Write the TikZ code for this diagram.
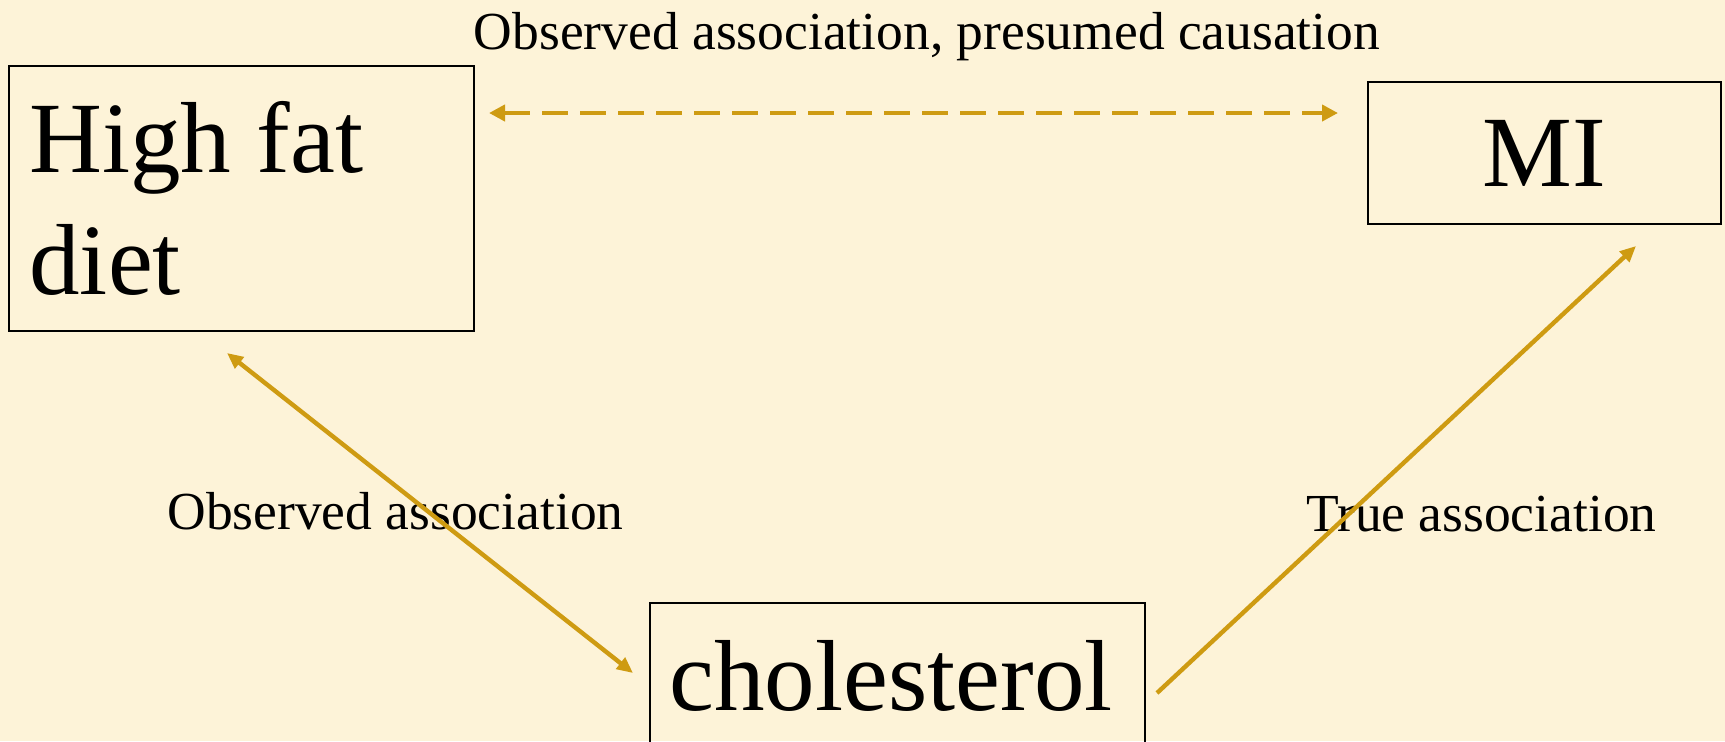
\documentclass[tikz,border=0pt]{standalone}
\usepackage{fontspec}
\setmainfont{Liberation Serif}
\usetikzlibrary{arrows.meta, positioning}
\definecolor{parchment}{RGB}{253,243,216}
\definecolor{gold}{RGB}{206,155,18}

\begin{document}
\begin{tikzpicture}[x=0.5pt, y=-0.5pt,
  factor/.style={draw, line width=1pt, font=\fontsize{50.5}{60.6}\selectfont},
  lab/.style={inner sep=0pt, font=\fontsize{26.75}{32}\selectfont},
  assoc/.style={gold, line width=2.2pt}]
  \clip (0,0) rectangle (1725,741);
  \fill[parchment] (0,0) rectangle (1725,741);

  % Variables
  \node[factor, anchor=north west, minimum width=232.5pt, minimum height=132.5pt,
        inner xsep=10pt, text width=212pt, align=flush left] (diet) at (8,65) {High fat\\diet};
  \node[factor, minimum width=176.5pt, minimum height=71pt] (mi) at (1544.5,153) {MI};
  \node[factor, anchor=north west, minimum width=247.5pt, minimum height=73pt,
        text width=228pt, align=flush left] (chol) at (649,602) {cholesterol};

  % Labels
  \node[lab, anchor=base] (presumed) at (927,49) {Observed association, presumed causation};
  \node[lab, anchor=base west] (observed) at (167,529) {Observed association};
  \node[lab, anchor=base west] (true) at (1306,531) {True association};

  % Arrow ends
  \coordinate (dietR) at (489,113);
  \coordinate (miL) at (1338,113);
  \coordinate (dietB) at (227,353);
  \coordinate (cholL) at (633,673);
  \coordinate (cholR) at (1157,693);
  \coordinate (miB) at (1636,246);

  % Associations
  \draw[assoc, dash pattern=on 13pt off 6pt, {Triangle[length=8pt,width=8pt]}-{Triangle[length=8pt,width=8pt]}] (dietR) -- (miL);
  \draw[assoc, {Triangle[length=8pt,width=7pt]}-{Triangle[length=8pt,width=7pt]}] (dietB) -- (cholL);
  \draw[assoc, -{Triangle[length=8pt,width=7pt]}] (cholR) -- (miB);
\end{tikzpicture}
\end{document}
